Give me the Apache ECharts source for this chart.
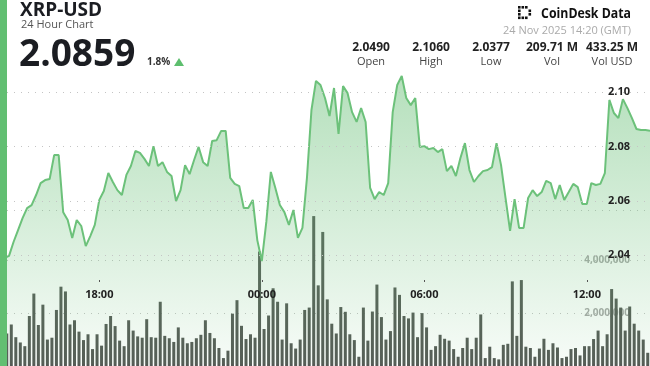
<!DOCTYPE html>
<html>
<head>
<meta charset="utf-8">
<script src="https://cdn.jsdelivr.net/npm/echarts@6/dist/echarts.min.js"></script>
<style>
html,body{margin:0;padding:0;background:#fff;}
#chart{width:650px;height:366px;}
</style>
</head>
<body>
<div id="chart"></div>
<script>
// ---- data ----
const startLabel = '14:20'; // 23 Nov 2025, 10-minute steps
const tickLabels = ['18:00', '00:00', '06:00', '12:00'];
const priceTicks = [2.04, 2.06, 2.08, 2.10];
const volTicks = [2, 4]; // millions
const prices = [
  2.0401, 2.0390, 2.0398, 2.0449, 2.0493, 2.0537, 2.0574, 2.0585, 2.0622, 2.0666,
  2.0677, 2.0681, 2.0769, 2.0769, 2.0559, 2.0530, 2.0464, 2.0530, 2.0508, 2.0434,
  2.0471, 2.0512, 2.0604, 2.0637, 2.0703, 2.0670, 2.0640, 2.0622, 2.0696, 2.0729,
  2.0784, 2.0777, 2.0755, 2.0729, 2.0802, 2.0729, 2.0743, 2.0707, 2.0692, 2.0600,
  2.0640, 2.0732, 2.0699, 2.0751, 2.0799, 2.0743, 2.0729, 2.0821, 2.0824, 2.0858,
  2.0858, 2.0685, 2.0663, 2.0655, 2.0574, 2.0574, 2.0604, 2.0456, 2.0379, 2.0523,
  2.0707, 2.0648, 2.0585, 2.0559, 2.0512, 2.0567, 2.0464, 2.0501, 2.0685, 2.0935,
  2.1042, 2.1027, 2.0979, 2.0913, 2.1016, 2.0847, 2.1023, 2.0997, 2.0927, 2.0891,
  2.0942, 2.0891, 2.0648, 2.0607, 2.0633, 2.0622, 2.0666, 2.0927, 2.1027, 2.1060,
  2.0979, 2.0953, 2.0979, 2.0799, 2.0802, 2.0791, 2.0795, 2.0780, 2.0791, 2.0710,
  2.0729, 2.0692, 2.0758, 2.0813, 2.0714, 2.0670, 2.0692, 2.0710, 2.0714, 2.0725,
  2.0813, 2.0732, 2.0611, 2.0490, 2.0607, 2.0501, 2.0501, 2.0611, 2.0640, 2.0618,
  2.0633, 2.0674, 2.0666, 2.0607, 2.0659, 2.0604, 2.0633, 2.0663, 2.0651, 2.0589,
  2.0589, 2.0666, 2.0659, 2.0663, 2.0703, 2.0972, 2.0924, 2.0905, 2.0975, 2.0942,
  2.0905, 2.0865, 2.0861, 2.0861, 2.0859
];
const volumesM = [
  1.0, 1.23, 1.57, 1.09, 0.89, 0.75, 1.89, 2.74, 1.55, 2.32,
  1.0, 1.07, 2.12, 3.0, 2.82, 1.57, 1.73, 1.30, 0.98, 1.20,
  0.64, 1.20, 0.77, 1.59, 1.89, 1.51, 0.96, 0.75, 1.73, 1.34,
  1.12, 1.07, 1.77, 1.09, 1.07, 2.43, 1.14, 1.05, 0.91, 1.46,
  1.07, 0.86, 0.91, 1.05, 1.18, 1.73, 1.25, 1.05, 0.68, 0.30,
  0.58, 1.98, 2.49, 1.52, 1.02, 1.20, 1.07, 4.33, 1.40, 1.91,
  2.94, 2.43, 1.0, 2.37, 0.86, 0.66, 1.0, 2.12, 2.21, 5.67,
  3.05, 5.07, 2.52, 1.60, 1.23, 2.23, 2.05, 1.20, 0.98, 0.35,
  2.21, 0.96, 2.06, 3.08, 1.85, 1.0, 1.32, 2.97, 2.69, 1.89,
  1.80, 2.02, 1.09, 2.0, 1.46, 0.61, 0.75, 1.18, 1.03, 0.96,
  0.64, 0.35, 0.68, 1.07, 0.64, 1.07, 1.95, 0.30, 0.73, 0.30,
  0.25, 0.80, 0.84, 3.20, 1.14, 3.25, 0.73, 0.68, 0.35, 0.66,
  1.03, 0.61, 0.86, 0.70, 0.30, 0.35, 0.64, 0.68, 0.40, 0.75,
  0.75, 1.02, 1.34, 0.75, 1.20, 2.91, 2.55, 2.21, 1.34, 2.25,
  1.60, 1.34, 1.0, 0.50
];
const statValues = ['2.0490', '2.1060', '2.0377', '209.71 M', '433.25 M'];
const statNames = ['Open', 'High', 'Low', 'Vol', 'Vol USD'];
const lastPrice = '2.0859';
const changePct = '1.8%';

// time labels for each 10-minute step
function buildTimes(n) {
  const [h0, m0] = startLabel.split(':').map(Number);
  const out = [];
  for (let i = 0; i < n; i++) {
    const t = (h0 * 60 + m0 + i * 10) % 1440;
    out.push(String(Math.floor(t / 60)).padStart(2, '0') + ':' + String(t % 60).padStart(2, '0'));
  }
  return out;
}
const priceTimes = buildTimes(prices.length);
const volTimes = buildTimes(volumesM.length);

const FONT = '"Open Sans", "Noto Sans", sans-serif';
const GREEN = '#6cc17a';
const chart = echarts.init(document.getElementById('chart'), null, {renderer: 'canvas'});

const statX = [371, 431, 491, 552, 612];
const graphics = [
  {type: 'rect', shape: {x: 0, y: 0, width: 7, height: 366}, style: {fill: '#62bf72'}, z: 100},
  {type: 'text', style: {x: 20, y: 10.5, text: 'XRP-USD', font: 'bold 19px ' + FONT, fill: '#1b1d22', textVerticalAlign: 'middle'}, z: 100},
  {type: 'text', style: {x: 21, y: 25, text: '24 Hour Chart', font: '11px ' + FONT, fill: '#555', textVerticalAlign: 'middle'}, z: 100},
  {type: 'text', style: {x: 19, y: 55, text: lastPrice, font: 'bold 37px ' + FONT, fill: '#1b1d22', textVerticalAlign: 'middle'}, z: 100},
  {type: 'text', style: {x: 147, y: 62, text: changePct, font: 'bold 10px ' + FONT, fill: '#333', textVerticalAlign: 'middle'}, z: 100},
  {type: 'polygon', shape: {points: [[174, 66], [184, 66], [179, 58]]}, style: {fill: '#5dbe6e'}, z: 100},
  {type: 'text', x: 631, y: 14, scaleX: 0.82, style: {x: 0, y: 0, text: 'CoinDesk Data', font: 'bold 15px ' + FONT, fill: '#111', textAlign: 'right', textVerticalAlign: 'middle'}, z: 100},
  {type: 'text', style: {x: 631, y: 31, text: '24 Nov 2025 14:20 (GMT)', font: '11px ' + FONT, fill: '#aaa', textAlign: 'right', textVerticalAlign: 'middle'}, z: 100}
];
// logo mark
[[518,6],[518,9.5],[518,13],[518,16.5],[521.5,6],[525,6],[521.5,16.5],[525,16.5],[528.5,9.5],[528.5,13]].forEach(p => {
  graphics.push({type: 'rect', shape: {x: p[0], y: p[1], width: 2.6, height: 2.6}, style: {fill: '#111'}, z: 100});
});
statValues.forEach((v, i) => {
  graphics.push({type: 'text', style: {x: statX[i], y: 48, text: v, font: 'bold 12px ' + FONT, fill: '#222', textAlign: 'center', textVerticalAlign: 'middle'}, z: 100});
  graphics.push({type: 'text', style: {x: statX[i], y: 62, text: statNames[i], font: '11px ' + FONT, fill: '#444', textAlign: 'center', textVerticalAlign: 'middle'}, z: 100});
});

const option = {
  animation: false,
  backgroundColor: '#fff',
  graphic: graphics,
  grid: [
    {left: 0, right: 0, top: 38, height: 326},
    {left: 0, right: 0, top: 210, height: 172}
  ],
  xAxis: [
    {
      type: 'category', gridIndex: 0, data: priceTimes, boundaryGap: false,
      offset: -84, z: 10,
      axisLine: {show: false},
      axisTick: {show: true, length: 2, lineStyle: {color: '#555'}, interval: (i, v) => tickLabels.includes(v)},
      axisLabel: {interval: (i, v) => tickLabels.includes(v), margin: 9, fontFamily: FONT, fontWeight: 'bold', fontSize: 11, color: '#222'},
      splitLine: {show: false}
    },
    {
      type: 'category', gridIndex: 1, data: volTimes, boundaryGap: true,
      show: false
    }
  ],
  yAxis: [
    {
      type: 'value', gridIndex: 0, position: 'right', min: 2.00, max: 2.12, interval: 0.02, z: 10,
      axisLine: {show: false}, axisTick: {show: false}, splitLine: {show: false},
      axisLabel: {inside: true, margin: 20, fontFamily: FONT, fontWeight: 'bold', fontSize: 11, color: '#222',
        formatter: v => priceTicks.some(t => Math.abs(t - v) < 1e-6) ? v.toFixed(2) : ''}
    },
    {
      type: 'value', gridIndex: 1, position: 'right', min: 0, max: 5.9, interval: 2,
      axisLine: {show: false}, axisTick: {show: false},
      splitLine: {show: true, lineStyle: {color: '#c4c4c4', type: [1, 6], width: 1}},
      axisLabel: {inside: true, margin: 20, fontFamily: FONT, fontWeight: 'bold', fontSize: 10, color: '#a8a8a8',
        formatter: v => volTicks.includes(v) ? (v * 1e6).toLocaleString('en-US') : ''}
    }
  ],
  series: [
    {
      type: 'line', xAxisIndex: 0, yAxisIndex: 0, data: prices, symbol: 'none',
      lineStyle: {color: GREEN, width: 2},
      areaStyle: {
        origin: 'start',
        color: new echarts.graphic.LinearGradient(0, 0, 0, 1, [
          {offset: 0, color: 'rgba(108,193,122,0.72)'},
          {offset: 1, color: 'rgba(108,193,122,0.08)'}
        ])
      },
      markLine: {
        silent: true, symbol: 'none', label: {show: false},
        lineStyle: {color: '#c4c4c4', type: [1, 6], width: 1},
        data: priceTicks.map(t => ({yAxis: t}))
      }
    },
    {
      type: 'bar', xAxisIndex: 1, yAxisIndex: 1, data: volumesM, barWidth: 3,
      itemStyle: {color: '#555955'}
    }
  ]
};
chart.setOption(option);
</script>
</body>
</html>
